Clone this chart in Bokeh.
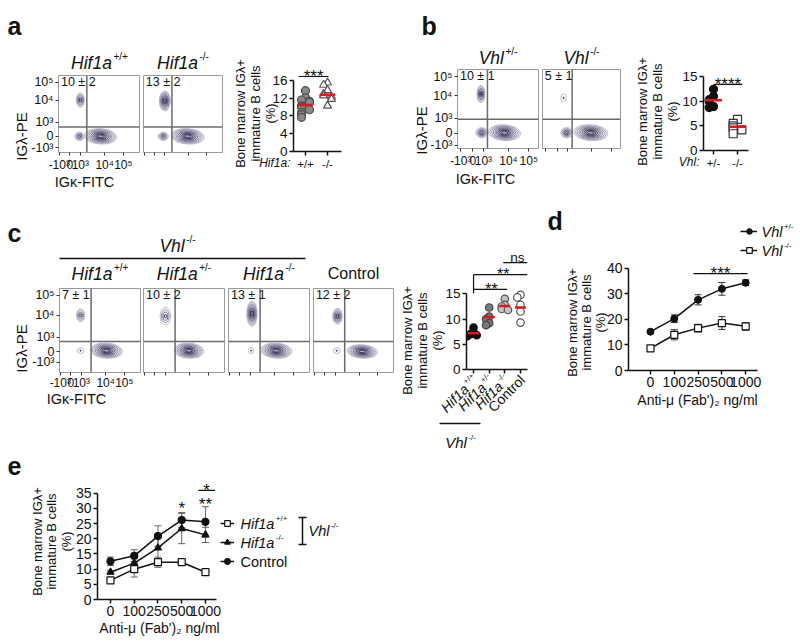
import numpy as np
from math import pi
from bokeh.plotting import figure
from bokeh.layouts import row, column
from bokeh.models import (Label, Span, FixedTicker, ColumnDataSource, Whisker, TeeHead,
                          Arrow, Legend, LegendItem, Range1d, GridBox)
from bokeh.embed import file_html
from bokeh.resources import INLINE

FONT = "Liberation Sans"

# ---------------- data ----------------
a_groups = ["+/+", "-/-"]
a_hif1a_wt = [13.7, 12.1, 11.6, 11.3, 11.1, 10.3, 10.0, 9.4, 8.8, 8.3, 7.7]
a_hif1a_ko = [15.5, 15.0, 13.8, 13.0, 12.6, 12.3, 11.8, 10.3]
a_means = [10.5, 12.8]
a_flow_pct = ["10 ± 2", "13 ± 2"]

b_groups = ["+/-", "-/-"]
b_vhl_het = [12.4, 11.0, 10.3, 10.0, 8.9, 8.7]
b_vhl_ko = [6.3, 5.5, 5.0, 4.6, 4.2, 3.4]
b_means = [10.2, 4.8]
b_flow_pct = ["10 ± 1", "5 ± 1"]

c_group_names = ["Hif1a", "Hif1a", "Hif1a", "Control"]
c_group_sups = ["+/+", "+/-", "-/-", ""]
c_hif1a_wt = [8.3, 7.3, 7.0, 6.8, 6.6]
c_hif1a_het = [12.3, 10.5, 10.0, 9.2, 8.8]
c_hif1a_ko = [14.0, 12.8, 12.5, 12.0, 11.8]
c_control = [14.8, 14.3, 12.8, 11.5, 9.3]
c_means = [7.2, 10.4, 12.6, 12.3]
c_flow_pct = ["7 ± 1", "10 ± 2", "13 ± 1", "12 ± 2"]

dose_labels = ["0", "100", "250", "500", "1000"]
d_vhl_het = [15.2, 20.3, 27.7, 32.0, 34.4]
d_vhl_het_sem = [0.6, 1.5, 2.0, 2.5, 1.1]
d_vhl_ko = [8.7, 14.0, 16.6, 18.6, 17.3]
d_vhl_ko_sem = [0.6, 2.0, 1.5, 2.5, 1.5]

e_hif1a_wt = [6.3, 10.0, 12.3, 12.3, 9.0]
e_hif1a_wt_sem = [0.5, 2.6, 1.7, 0.5, 0.7]
e_hif1a_ko = [9.0, 12.0, 17.0, 23.4, 21.3]
e_hif1a_ko_sem = [0.5, 1.4, 4.3, 5.0, 2.5]
e_control = [12.6, 14.4, 20.9, 26.2, 25.6]
e_control_sem = [1.4, 2.0, 3.4, 2.5, 5.0]

# flow cytometry: tick labels and their places on the biexponential display scale (0-100)
flow_tick_labels = ["-10³", "0", "10³", "10⁴", "10⁵"]
a_flow_ypos = [6, 21, 39, 68, 91]
b_flow_ypos = [4, 19, 38, 67, 91]
c_flow_ypos = [12, 25, 42, 68, 92]
ac_flow_xpos = [1, 14, 27, 57, 80]
b_flow_xpos = [4, 19, 32, 63, 88]
# contour clusters: centre x, centre y, width, height, contour levels, tilt (display units)
a_flow_clusters = [
    [(52, 21, 40, 20, 9, -0.07), (26, 21, 12, 11, 4, 0.0), (27, 68, 10, 19, 5, 0.0)],
    [(56, 21, 42, 20, 9, -0.07), (25, 21, 13, 11, 4, 0.0), (27, 67, 14, 26, 8, 0.0)],
]
b_flow_clusters = [
    [(58, 20, 40, 20, 9, -0.07), (30, 20, 15, 13, 5, 0.0), (29, 69, 10, 22, 6, 0.0)],
    [(62, 20, 44, 20, 9, -0.07), (31, 20, 15, 13, 5, 0.0), (27, 64, 7, 10, 2, 0.0)],
]
c_flow_clusters = [
    [(58, 26, 40, 18, 9, -0.07), (26, 26, 8, 7, 2, 0.0), (26, 68, 10, 16, 4, 0.0)],
    [(56, 26, 37, 18, 9, -0.07), (27, 67, 13, 21, 4, 0.0)],
    [(59, 26, 39, 18, 9, -0.07), (28, 26, 7, 7, 2, 0.0), (29, 70, 13, 30, 8, 0.0)],
    [(61, 25, 38, 16, 9, -0.07), (29, 26, 9, 7, 2, 0.0), (30, 67, 12, 19, 6, 0.0)],
]
a_gates = [(35, 33), (36, 33)]
b_gates = [(37, 37), (38, 37)]
c_gates = [(39, 37), (39, 37), (39, 37), (39, 37)]

YLAB = ["Bone marrow IGλ+", "immature B cells", "(%)"]

W, H = 800, 641

# ---------------- helpers ----------------
CW = {'H': .722, 'i': .222, 'f': .278, '1': .556, 'a': .556, 'V': .667, 'h': .556, 'l': .222,
      '+': .584, '/': .278, '-': .333, ' ': .278, 'C': .722, 'o': .556, 'n': .556, 't': .278,
      'r': .333, ':': .278}


def tw(s, size):
    return sum(CW.get(c, 0.556) for c in s) * size


# transparent overlay that carries the free texts (page pixel coordinates, y downwards)
ov = figure(width=W, height=H, x_range=Range1d(0, W), y_range=Range1d(H, 0),
            min_border=0, output_backend="svg", toolbar_location=None,
            x_axis_location=None, y_axis_location=None)
ov.xgrid.visible = False
ov.ygrid.visible = False
ov.outline_line_color = None
ov.background_fill_color = None
ov.border_fill_color = None
ov.frame_align = False


def T(X, Y, text, size, style="normal", align="left", baseline="middle", angle=0.0, color="#111111"):
    ov.add_layout(Label(x=X, y=Y, text=text, text_font=FONT, text_font_size=f"{size}px",
                        text_font_style=style, text_align=align, text_baseline=baseline,
                        angle=angle, text_color=color))


def gene(X, Y, name, sup, size, center=True, style="italic", supsize=None):
    supsize = supsize or round(size * 0.55)
    w = tw(name, size) + 1.5 + tw(sup, supsize)
    x0 = X - w / 2 if center else X
    T(x0, Y, name, size, style)
    T(x0 + tw(name, size) + 1.5, Y - size * 0.33, sup, supsize)


def HL(X0, X1, Y, w=1.5):
    ov.segment(x0=[X0], y0=[Y], x1=[X1], y1=[Y], line_color="#111111", line_width=w)


def ylabel3(xs, yc, size=13):
    for X, t in zip(xs, YLAB):
        T(X, yc, t, size, angle=pi / 2, align="center")


def mkfig(px, fx, py, fy, xr, yr):
    (px0, px1), (fx0, fx1), (py0, py1), (fy0, fy1) = px, fx, py, fy
    p = figure(width=px1 - px0, height=py1 - py0,
               x_range=Range1d(*xr), y_range=Range1d(*yr),
               min_border_left=fx0 - px0, min_border_right=px1 - fx1,
               min_border_top=fy0 - py0, min_border_bottom=py1 - fy1,
               output_backend="svg", toolbar_location=None)
    p.frame_align = False
    p.xgrid.visible = False
    p.ygrid.visible = False
    p.outline_line_color = None
    p.border_fill_color = "white"
    p.background_fill_color = "white"
    return p


def axis_style(ax, ticks, size, overrides=None, bounds=None, line=True, labels=True, out=4, standoff=2):
    ax.ticker = FixedTicker(ticks=ticks)
    if overrides:
        ax.major_label_overrides = overrides
    if bounds:
        ax.bounds = bounds
    ax.axis_line_color = "#111111" if line else None
    ax.axis_line_width = 1.5
    ax.major_tick_line_color = "#111111" if line else "#333333"
    ax.major_tick_line_width = 1.5 if line else 1
    ax.major_tick_out = out
    ax.major_tick_in = 0
    ax.minor_tick_line_color = None
    ax.major_label_text_font = FONT
    ax.major_label_text_font_size = f"{size}px"
    ax.major_label_text_color = "#111111" if labels else None
    ax.major_label_standoff = standoff


def mix(c1, c2, t):
    a = [int(c1[i:i + 2], 16) for i in (1, 3, 5)]
    b = [int(c2[i:i + 2], 16) for i in (1, 3, 5)]
    return "#%02x%02x%02x" % tuple(round(a[j] + (b[j] - a[j]) * t) for j in range(3))


def draw_contours(p, clusters):
    d = dict(x=[], y=[], w=[], h=[], a=[], c=[], fa=[])
    for (cx, cy, w, h, n, ang) in clusters:
        for k in range(n):
            t = k / (n - 1) if n > 1 else 0.0
            f = 1.0 - 0.8 * t
            d["x"].append(cx); d["y"].append(cy)
            d["w"].append(w * f); d["h"].append(h * f); d["a"].append(ang)
            d["c"].append(mix("#bdb8cd", "#342b52", t))
            d["fa"].append(0.12 if (t > 0.45 and n >= 6) else 0.0)
    p.ellipse(x="x", y="y", width="w", height="h", angle="a", source=ColumnDataSource(d),
              fill_color="c", fill_alpha="fa", line_color="c", line_width=1.0)


def flow_plot(px, fx, py, fy, clusters, gate, pct, ypos, xpos, first, standoff=2):
    p = mkfig(px, fx, py, fy, (0, 100), (0, 100))
    p.outline_line_color = "#9a9a9a"
    p.outline_line_width = 1
    draw_contours(p, clusters)
    p.add_layout(Span(location=gate[0], dimension="height", line_color="#6a6a6a", line_width=1.5))
    p.add_layout(Span(location=gate[1], dimension="width", line_color="#6a6a6a", line_width=1.5))
    p.add_layout(Label(x=3, y=92, text=pct, text_font=FONT, text_font_size="12.5px",
                       text_baseline="middle", text_color="#111111"))
    axis_style(p.xaxis[0], xpos, 12, dict(zip(xpos, flow_tick_labels)), line=False,
               labels=first, out=3, standoff=standoff)
    if first:
        axis_style(p.yaxis[0], ypos, 12.5, dict(zip(ypos, flow_tick_labels)), line=False,
                   labels=True, out=3, standoff=2)
    else:
        p.yaxis.visible = False
    return p


def swarm(vals, thr, step):
    placed, offs = [], []
    pattern = [0, -1, 1, -2, 2, -3, 3]
    for v in vals:
        k = sum(1 for u in placed if abs(u - v) < thr)
        offs.append(pattern[k % 7] * step)
        placed.append(v)
    return offs


def col_scatter(p, i, vals, thr, step, marker, fill, line, size=8):
    offs = swarm(vals, thr, step)
    p.scatter(x=[i + o for o in offs], y=vals, marker=marker, size=size,
              fill_color=fill, line_color=line, line_width=1.2)


def means(p, mvals, half=0.35):
    xs = list(range(len(mvals)))
    p.segment(x0=[x - half for x in xs], x1=[x + half for x in xs], y0=mvals, y1=mvals,
              line_color="#e8141c", line_width=2.5)


def stars(p, x, y, text, size=17):
    p.add_layout(Label(x=x, y=y, text=text, text_font=FONT, text_font_size=f"{size}px",
                       text_align="center", text_baseline="middle", text_color="#111111"))


def bar(p, x0, x1, y):
    p.segment(x0=[x0], x1=[x1], y0=[y], y1=[y], line_color="#111111", line_width=1.2)


# ================= ROW 1 =================
R1 = (0, 198)
pa1 = flow_plot((0, 140), (58, 139), R1, (75, 152), a_flow_clusters[0], a_gates[0], a_flow_pct[0],
                a_flow_ypos, ac_flow_xpos, True)
pa2 = flow_plot((140, 225), (143, 222), R1, (75, 152), a_flow_clusters[1], a_gates[1], a_flow_pct[1],
                a_flow_ypos, ac_flow_xpos, False)
T(7, 25, "a", 25, "bold", baseline="alphabetic")
gene(99, 62, "Hif1a", "+/+", 17.5)
gene(182.5, 62, "Hif1a", "-/-", 17.5)
T(21, 136, "IGλ-PE", 15, angle=pi / 2, align="center")
T(84, 181, "IGκ-FITC", 14.5, align="center")

pa3 = mkfig((225, 410), (293, 341), R1, (62, 151), (-0.545, 1.636), (0, 20.05))
axis_style(pa3.yaxis[0], [0, 4, 8, 12, 16], 13.5, bounds=(0, 16))
axis_style(pa3.xaxis[0], [0, 1], 11.5, dict(zip([0, 1], a_groups)))
col_scatter(pa3, 0, a_hif1a_wt, 1.0, 0.18, "circle", "#8a8a8a", "#4d4d4d")
col_scatter(pa3, 1, a_hif1a_ko, 1.0, 0.18, "triangle", "white", "#555555")
means(pa3, a_means)
bar(pa3, -0.3, 1.05, 16.9)
stars(pa3, 0.37, 16.9, "***")
ylabel3([240, 255, 270], 113)
T(290, 162, "Hif1a:", 12, "italic", align="right")

pb1 = flow_plot((410, 540), (457, 538), R1, (69, 148), b_flow_clusters[0], b_gates[0], b_flow_pct[0],
                b_flow_ypos, b_flow_xpos, True)
pb2 = flow_plot((540, 623), (542, 620), R1, (69, 148), b_flow_clusters[1], b_gates[1], b_flow_pct[1],
                b_flow_ypos, b_flow_xpos, False)
T(421, 25, "b", 25, "bold", baseline="alphabetic")
gene(497.5, 57, "Vhl", "+/-", 17.5)
gene(581, 57, "Vhl", "-/-", 17.5)
T(421, 130, "IGλ-PE", 15, angle=pi / 2, align="center")
T(485, 178, "IGκ-FITC", 14.5, align="center")

pb3 = mkfig((623, 800), (703, 748), R1, (69, 150), (-0.417, 1.458), (0, 16.42))
axis_style(pb3.yaxis[0], [0, 5, 10, 15], 13.5, bounds=(0, 15))
axis_style(pb3.xaxis[0], [0, 1], 11.5, dict(zip([0, 1], b_groups)))
col_scatter(pb3, 0, b_vhl_het, 0.9, 0.18, "circle", "#111111", "#111111")
col_scatter(pb3, 1, b_vhl_ko, 0.9, 0.18, "square", "white", "#333333")
means(pb3, b_means)
bar(pb3, 0.0, 1.2, 13.4)
stars(pb3, 0.6, 13.4, "****")
ylabel3([642, 657, 672], 111)
T(699, 161, "Vhl:", 12, "italic", align="right")

# ================= ROW 2 =================
R2 = (198, 451)
cfx = [(59, 140), (143, 224), (228, 309), (313, 393)]
cpx = [(0, 141), (141, 226), (226, 311), (311, 396)]
cfl = []
for k in range(4):
    cfl.append(flow_plot(cpx[k], cfx[k], R2, (288, 372), c_flow_clusters[k], c_gates[k], c_flow_pct[k],
                         c_flow_ypos, ac_flow_xpos, k == 0, standoff=0))
T(7, 232, "c", 25, "bold", baseline="alphabetic")
HL(59, 305, 258)
gene(177, 245, "Vhl", "-/-", 17.5)
ctitle = [("Hif1a", "+/+"), ("Hif1a", "+/-"), ("Hif1a", "-/-")]
for k in range(3):
    gene((cfx[k][0] + cfx[k][1]) / 2, 273, ctitle[k][0], ctitle[k][1], 17.5)
T(353, 273, "Control", 16, align="center")
T(21, 348, "IGλ-PE", 15, angle=pi / 2, align="center")
T(76, 398, "IGκ-FITC", 14.5, align="center")

C5_FX, C5_XR = (466, 527), (-0.45, 3.45)
pc5 = mkfig((396, 545), C5_FX, R2, (248, 369), C5_XR, (0, 24.0))
axis_style(pc5.yaxis[0], [0, 5, 10, 15], 13.5, bounds=(0, 15))
axis_style(pc5.xaxis[0], [0, 1, 2, 3], 11, labels=False)
col_scatter(pc5, 0, c_hif1a_wt, 0.8, 0.2, "circle", "#111111", "#111111", 7.5)
col_scatter(pc5, 1, c_hif1a_het, 0.8, 0.2, "circle", "#7a7a7a", "#444444", 7.5)
col_scatter(pc5, 2, c_hif1a_ko, 0.8, 0.2, "circle", "#c4c4c4", "#555555", 7.5)
col_scatter(pc5, 3, c_control, 0.8, 0.2, "circle", "white", "#555555", 7.5)
means(pc5, c_means)
bar(pc5, 0.0, 2.15, 15.9)
bar(pc5, 0.0, 3.45, 18.8)
bar(pc5, 1.9, 3.45, 21.2)
pc5.segment(x0=[0.0], x1=[0.0], y0=[15.1], y1=[18.8], line_color="#111111", line_width=1.2)
stars(pc5, 1.15, 15.9, "**", 16)
stars(pc5, 1.9, 18.8, "**", 16)
pc5.add_layout(Label(x=2.8, y=22.3, text="ns", text_font=FONT, text_font_size="13.5px",
                     text_align="center", text_baseline="middle", text_color="#111111"))
ylabel3([407, 422, 437], 340)
c5_scale = (C5_FX[1] - C5_FX[0]) / (C5_XR[1] - C5_XR[0])
for i, (nm, sp) in enumerate(zip(c_group_names, c_group_sups)):
    ax_ = C5_FX[0] + (i - C5_XR[0]) * c5_scale + 2
    ay_ = 377
    if sp:
        d = tw(sp, 8) + 1.5
        T(ax_ - 2.8, ay_ - 2.8, sp, 8, align="right", angle=pi / 4)
        T(ax_ - 0.707 * d, ay_ + 0.707 * d, nm, 14, "italic", align="right", angle=pi / 4)
    else:
        T(ax_, ay_, nm, 14, align="right", angle=pi / 4)
HL(439, 480, 423)
gene(460, 442, "Vhl", "-/-", 15)

pdd = mkfig((545, 800), (628, 757), R2, (222, 370), (-0.924, 4.496), (0, 58.0))
axis_style(pdd.yaxis[0], [0, 10, 20, 30, 40], 14, bounds=(0, 40))
axis_style(pdd.xaxis[0], [0, 1, 2, 3, 4], 14, dict(zip(range(5), dose_labels)))
xd = list(range(5))
for vals, sem in ((d_vhl_het, d_vhl_het_sem), (d_vhl_ko, d_vhl_ko_sem)):
    src = ColumnDataSource(dict(x=xd, up=[v + s for v, s in zip(vals, sem)],
                                lo=[v - s for v, s in zip(vals, sem)]))
    pdd.add_layout(Whisker(source=src, base="x", upper="up", lower="lo", line_color="#333333",
                           line_width=1, upper_head=TeeHead(size=7, line_color="#333333"),
                           lower_head=TeeHead(size=7, line_color="#333333")))
l1 = pdd.line(xd, d_vhl_het, line_color="#111111", line_width=1.5)
s1 = pdd.scatter(xd, d_vhl_het, marker="circle", size=7, fill_color="#111111", line_color="#111111")
l2 = pdd.line(xd, d_vhl_ko, line_color="#111111", line_width=1.5)
s2 = pdd.scatter(xd, d_vhl_ko, marker="square", size=7, fill_color="white", line_color="#111111",
                 line_width=1.2)
bar(pdd, 1.8, 4.08, 38.0)
stars(pdd, 2.94, 38.0, "***")
pdd.add_layout(Legend(items=[LegendItem(label=" ", renderers=[l1, s1]),
                             LegendItem(label=" ", renderers=[l2, s2])],
                      location=(112, 113), glyph_width=18, glyph_height=14, label_height=14,
                      label_width=1, spacing=5, padding=0, margin=0, label_standoff=0,
                      label_text_font_size="1px", border_line_color=None,
                      background_fill_alpha=0))
gene(761, 231, "Vhl", "+/-", 14.5, center=False)
gene(761, 250, "Vhl", "-/-", 14.5, center=False)
T(547, 220, "d", 25, "bold", baseline="alphabetic")
ylabel3([572, 586, 600], 322)
T(697, 399, "Anti-μ (Fab')₂ ng/ml", 14, align="center")

# ================= ROW 3 =================
R3 = (451, 641)
pe = mkfig((0, 408), (97, 360), R3, (481, 599), (-0.547, 10.53), (0, 38.9))
axis_style(pe.yaxis[0], [0, 5, 10, 15, 20, 25, 30, 35], 14, bounds=(0, 35))
axis_style(pe.xaxis[0], [0, 1, 2, 3, 4], 14, dict(zip(range(5), dose_labels)), bounds=(-0.547, 4.46))
xe = list(range(5))
rends = []
for vals, sem, mk, fill in ((e_hif1a_wt, e_hif1a_wt_sem, "square", "white"),
                            (e_hif1a_ko, e_hif1a_ko_sem, "triangle", "#111111"),
                            (e_control, e_control_sem, "circle", "#111111")):
    src = ColumnDataSource(dict(x=xe, up=[v + s for v, s in zip(vals, sem)],
                                lo=[v - s for v, s in zip(vals, sem)]))
    pe.add_layout(Whisker(source=src, base="x", upper="up", lower="lo", line_color="#666666",
                          line_width=1, upper_head=TeeHead(size=7, line_color="#666666"),
                          lower_head=TeeHead(size=7, line_color="#666666")))
    ln = pe.line(xe, vals, line_color="#111111", line_width=1.5)
    sc = pe.scatter(xe, vals, marker=mk, size=7, fill_color=fill, line_color="#111111", line_width=1.2)
    rends.append((ln, sc))
pe.add_layout(Legend(items=[LegendItem(label=" ", renderers=list(r)) for r in rends],
                     location=(123, 31), glyph_width=14, glyph_height=14, label_height=14,
                     label_width=1, spacing=5, padding=0, margin=0, label_standoff=0,
                     label_text_font_size="1px", border_line_color=None, background_fill_alpha=0))
gene(240, 523, "Hif1a", "+/+", 14.5, center=False)
gene(240, 542, "Hif1a", "-/-", 14.5, center=False)
T(240, 561, "Control", 14.5)
ov.segment(x0=[302, 298, 298], y0=[517, 517, 544], x1=[302, 306, 306], y1=[544, 517, 544],
           line_color="#111111", line_width=1.5)
gene(308, 530, "Vhl", "-/-", 14.5, center=False)
stars(pe, 3, 30.0, "*")
stars(pe, 4, 31.4, "**")
bar(pe, 3.7, 4.4, 36.0)
stars(pe, 4.05, 36.0, "*")
T(7, 465, "e", 25, "bold", baseline="alphabetic")
ylabel3([37, 51, 66], 541)
T(159, 627, "Anti-μ (Fab')₂ ng/ml", 14, align="center")

content = column(row(pa1, pa2, pa3, pb1, pb2, pb3),
                 row(cfl[0], cfl[1], cfl[2], cfl[3], pc5, pdd),
                 row(pe))
layout = GridBox(children=[(content, 0, 0), (ov, 0, 0)])
open("out.html", "w").write(file_html(layout, INLINE))
